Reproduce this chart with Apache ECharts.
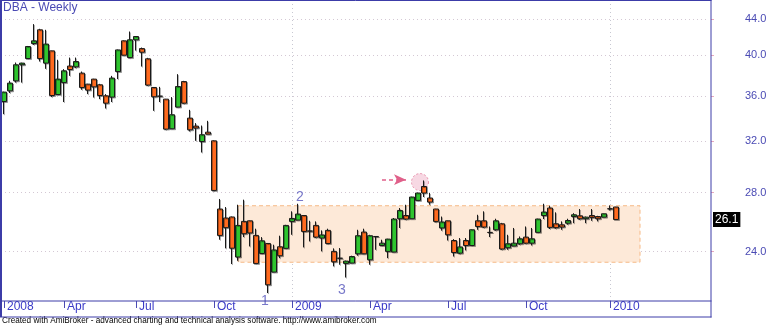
<!DOCTYPE html>
<html><head><meta charset="utf-8">
<script src="https://cdn.jsdelivr.net/npm/echarts@6/dist/echarts.min.js"></script>
<style>html,body{margin:0;padding:0;background:#fff}#c{width:770px;height:326px}</style>
</head><body><div id="c"></div>
<script>
// weekly OHLC: [open, close, low, high]
const ohlc = [
[35.48,36.36,34.33,36.40],[36.48,37.22,36.27,37.44],[37.44,39.04,37.27,39.27],[39.04,39.21,37.27,39.25],
[39.68,40.94,39.65,41.00],[41.26,41.55,41.12,43.40],[42.76,39.68,39.37,42.87],[39.21,41.20,38.63,42.76],
[40.48,36.04,35.89,40.50],[36.13,37.61,36.10,39.55],[37.27,38.43,35.43,38.60],[38.91,38.56,37.93,39.78],
[38.83,39.37,38.70,39.78],[38.20,36.80,36.58,38.36],[37.12,36.55,36.17,37.15],[37.61,36.86,35.85,37.64],
[37.06,36.04,35.70,37.15],[36.01,35.33,34.84,36.17],[35.89,37.71,35.43,37.93],[38.36,40.58,37.61,40.62],
[41.55,40.03,40.00,41.60],[39.78,41.66,39.72,42.57],[41.66,42.02,40.51,42.05],[40.72,40.34,38.86,40.83],
[39.65,37.03,36.96,39.75],[36.80,35.92,34.63,36.82],[35.98,35.97,35.43,36.86],[35.70,33.02,32.96,35.72],
[33.05,34.28,33.03,35.89],[34.97,36.89,34.95,38.10],[37.37,35.33,35.27,37.44],[33.98,32.96,32.82,34.72],
[33.28,33.11,32.03,33.54],[31.97,32.54,31.07,33.33],[32.76,32.59,32.58,33.74],[32.03,28.15,28.10,32.07],
[26.82,25.04,24.76,27.53],[26.20,25.55,24.21,26.96],[26.27,24.22,23.24,26.30],[23.67,25.70,23.44,27.12],
[25.97,25.15,24.93,27.48],[26.01,25.20,24.33,26.03],[25.04,23.28,23.26,25.48],[23.89,24.69,23.87,24.93],
[24.52,22.02,21.55,24.55],[22.76,24.11,22.75,24.44],[24.31,23.75,23.60,25.02],[24.21,25.70,24.19,25.74],
[25.97,26.17,25.08,26.66],[26.06,26.47,26.05,27.19],[26.37,25.30,24.27,26.38],[25.33,25.32,24.65,26.01],
[25.70,24.93,24.87,25.97],[24.87,25.07,24.02,25.37],[25.37,24.52,24.48,25.48],[24.02,23.38,23.10,24.21],
[23.60,23.59,23.20,24.23],[23.28,23.42,22.44,23.45],[23.30,23.70,23.29,23.75],[23.87,25.02,23.75,25.41],
[25.26,23.87,23.85,25.48],[23.50,25.02,23.20,25.08],[24.97,24.96,24.12,24.98],[24.39,24.54,24.37,24.76],
[24.02,24.80,23.60,24.82],[23.98,26.13,23.97,26.20],[26.15,26.72,25.53,26.89],[26.37,26.13,26.08,27.12],
[26.15,27.67,26.14,27.69],[27.43,27.96,27.41,27.98],[28.44,27.96,27.67,28.89],[27.60,27.31,27.12,27.96],
[26.82,25.97,25.91,26.83],[25.53,25.93,25.35,26.30],[26.01,25.08,24.71,26.02],[24.71,23.95,23.70,24.80],
[23.91,24.30,23.85,24.87],[24.71,24.39,24.08,24.87],[24.39,25.41,24.37,25.43],[26.01,25.63,25.41,26.42],
[26.01,25.59,25.53,26.66],[25.24,25.23,24.93,25.63],[25.41,26.01,25.35,26.15],[25.81,24.17,24.12,25.87],
[24.25,24.50,24.12,25.08],[24.36,24.54,24.35,25.53],[24.50,24.82,24.44,24.97],[24.93,24.54,24.50,25.63],
[24.54,24.82,24.39,25.53],[25.24,26.13,25.22,26.15],[26.37,26.61,26.13,27.19],[26.89,25.57,25.46,27.05],
[25.81,25.55,25.48,26.59],[25.74,25.59,25.41,25.97],[25.85,26.03,25.75,26.15],[26.30,26.42,25.85,26.53],
[26.35,26.15,26.08,26.82],[26.15,26.26,25.85,26.30],[26.37,26.24,26.01,26.82],[26.30,26.15,25.97,26.35],
[26.26,26.49,26.25,26.50],[26.84,26.83,26.72,27.07],[26.96,26.10,26.10,26.97]
];
const totalWeeks = 118;                       // visible weekly slots (incl. blank right margin)
const weeks = Array.from({length: totalWeeks}, (_, i) => String(i));
const tickIdx = [0, 10, 22, 35, 48, 61, 74, 87, 101];
const tickLabels = ['2008', 'Apr', 'Jul', 'Oct', '2009', 'Apr', 'Jul', 'Oct', '2010'];
const yearLineIdx = [48, 101];
const yTicks = [24, 28, 32, 36, 40, 44];
const yMin = 21.11, yMax = 46.09;
const waveLabels = ['1', '2', '3'];
const waveIdx = [44, 49, 57];
const wavePrice = [21.55, 27.19, 22.44];
const zoneFrom = 39, zoneTo = 106, zoneLow = 23.35, zoneHigh = 27.05;
const circleIdx = 70, circlePrice = 28.77;
const arrowFrom = 63, arrowTo = 67, arrowPrice = 28.95;
const lastPrice = 26.1;

const FONT = 'Arial, "Liberation Sans", sans-serif';
const BLUE = '#4a4ab4';
const FRAME = '#3c3ca8';

const chart = echarts.init(document.getElementById('c'), null, {renderer: 'canvas'});

const wavePos = ['bottom', 'top', 'bottom'];
const waveOffset = [[-3, 0], [2, 2], [-4, 4]];

chart.setOption({
  animation: false,
  backgroundColor: '#fff',
  title: [
    {text: 'DBA - Weekly', left: 3, top: 2, padding: 0,
     textStyle: {fontSize: 12, fontWeight: 'normal', color: BLUE, fontFamily: FONT}},
    {text: 'Created with AmiBroker - advanced charting and technical analysis software. http://www.amibroker.com',
     left: 2, top: 317, padding: 0,
     textStyle: {fontSize: 8.2, fontWeight: 'normal', color: '#000', fontFamily: FONT}}
  ],
  grid: {left: 1, top: 1, width: 708, height: 300},
  xAxis: [{
    type: 'category', data: weeks, boundaryGap: true,
    axisLine: {show: false},
    axisTick: {show: true, alignWithLabel: true, length: 7,
      interval: (i) => tickIdx.includes(i), lineStyle: {color: BLUE}},
    axisLabel: {show: true, interval: (i) => tickIdx.includes(i), margin: 0,
      align: 'left', padding: [0, 0, 0, 3], color: '#3a3ac8', fontSize: 12, fontFamily: FONT,
      formatter: (v, i) => { const k = tickIdx.indexOf(Number(v)); return k >= 0 ? tickLabels[k] : ''; }},
    splitLine: {show: false}
  }],
  yAxis: [{
    type: 'log', logBase: 10, min: yMin, max: yMax, position: 'right', offset: 2,
    axisLine: {show: false},
    axisTick: {show: true, customValues: yTicks, length: 3, lineStyle: {color: '#e8a8bc'}},
    axisLabel: {show: true, customValues: yTicks, margin: 34, color: BLUE, fontSize: 11, fontFamily: FONT,
      formatter: (v) => Number(v).toFixed(1)},
    splitLine: {show: false}
  }],
  graphic: [
    {type: 'line', shape: {x1: 0, y1: 0.5, x2: 711.5, y2: 0.5}, style: {stroke: FRAME, lineWidth: 1}, z: 100},
    {type: 'line', shape: {x1: 1, y1: 0, x2: 1, y2: 317}, style: {stroke: FRAME, lineWidth: 2}, z: 100},
    {type: 'line', shape: {x1: 711, y1: 0, x2: 711, y2: 317.5}, style: {stroke: FRAME, lineWidth: 1}, z: 100},
    {type: 'line', shape: {x1: 0, y1: 301, x2: 711.5, y2: 301}, style: {stroke: FRAME, lineWidth: 1}, z: 100},
    {type: 'line', shape: {x1: 0, y1: 317, x2: 711.5, y2: 317}, style: {stroke: FRAME, lineWidth: 1}, z: 100}
  ],
  series: [
    { // grid lines (horizontal at y ticks, vertical at year starts)
      type: 'line', data: [], silent: true,
      markLine: {
        silent: true, symbol: 'none', z: 0, animation: false,
        label: {show: false},
        data: yTicks.map(v => ({yAxis: v, lineStyle: {color: '#d4c8d4', type: [1, 3], width: 1}}))
          .concat(yearLineIdx.map(i => ({xAxis: weeks[i], lineStyle: {color: '#c8c8d2', type: [1, 3], width: 1}})))
      }
    },
    {
      type: 'candlestick', name: 'DBA', z: 2,
      data: ohlc, barWidth: 5,
      itemStyle: {
        color: '#2fc42f', color0: '#ff6a1f',
        borderColor: '#1a1a1a', borderColor0: '#1a1a1a', borderColorDoji: '#1a1a1a',
        borderWidth: 1,
        shadowColor: 'rgba(0,0,0,0.3)', shadowOffsetX: 1, shadowOffsetY: 1, shadowBlur: 0
      },
      markArea: {
        silent: true,
        itemStyle: {color: '#fde9d8', borderColor: '#f6b986', borderType: [4, 3], borderWidth: 1},
        data: [[{xAxis: weeks[zoneFrom], yAxis: zoneHigh}, {xAxis: weeks[zoneTo], yAxis: zoneLow}]]
      },
      markLine: {
        silent: true, symbol: 'none', animation: false, clip: false,
        lineStyle: {color: 'rgba(0,0,0,0)', width: 1, type: 'solid'},
        label: {show: true, position: 'end', distance: 4, formatter: () => lastPrice.toFixed(1),
          backgroundColor: '#000', color: '#fff', padding: [2, 2, 1, 2], fontSize: 12, fontFamily: FONT},
        data: [{yAxis: lastPrice}]
      }
    },
    { // highlight circle + arrow
      type: 'scatter', z: 1, silent: true,
      data: [[weeks[circleIdx], circlePrice]],
      symbol: 'circle', symbolSize: 17, symbolOffset: [-4, 0],
      itemStyle: {color: 'rgba(242,190,208,0.75)', borderColor: '#e2809e', borderType: [2, 2], borderWidth: 1},
      markLine: {
        silent: true, animation: false, symbol: ['none', 'arrow'], symbolSize: [8, 12],
        label: {show: false},
        lineStyle: {color: '#e0608a', type: [4, 3], width: 1.5},
        data: [[{coord: [weeks[arrowFrom], arrowPrice]}, {coord: [weeks[arrowTo], arrowPrice]}]]
      }
    },
    { // wave labels
      type: 'scatter', z: 3, silent: true, symbolSize: 1,
      itemStyle: {color: 'transparent'},
      data: waveLabels.map((t, k) => ({
        name: t, value: [weeks[waveIdx[k]], wavePrice[k]],
        label: {show: true, formatter: t, position: wavePos[k], distance: 1, offset: waveOffset[k],
          color: '#5555bb', fontSize: 14, fontFamily: FONT}
      }))
    }
  ]
});
</script></body></html>
